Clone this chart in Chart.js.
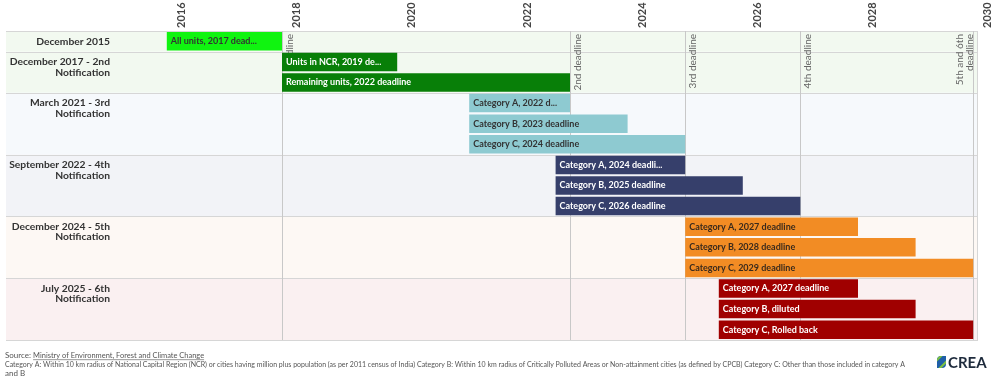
<!DOCTYPE html>
<html><head><meta charset="utf-8">
<script src="https://cdn.jsdelivr.net/npm/chart.js@4.4.1/dist/chart.umd.min.js"></script>
<style>html,body{margin:0;padding:0;background:#fff;}#wrap{width:1000px;height:381px;}</style>
</head><body><div id="wrap"><canvas id="c" width="1000" height="381"></canvas></div>
<script>
// ---- data ----
const groupLabels = [
  ['December 2015'],
  ['December 2017 - 2nd', 'Notification'],
  ['March 2021 - 3rd', 'Notification'],
  ['September 2022 - 4th', 'Notification'],
  ['December 2024 - 5th', 'Notification'],
  ['July 2025 - 6th', 'Notification']
];
const groupStarts = ['2015-12', '2017-12', '2021-03', '2022-09', '2024-12', '2025-07'];
const barGroup = [0, 1, 1, 2, 2, 2, 3, 3, 3, 4, 4, 4, 5, 5, 5];
// bar labels as displayed in the chart (long ones shortened with an ellipsis)
const barLabels = [
  'All units, 2017 dead...',
  'Units in NCR, 2019 de...', 'Remaining units, 2022 deadline',
  'Category A, 2022 d...', 'Category B, 2023 deadline', 'Category C, 2024 deadline',
  'Category A, 2024 deadli...', 'Category B, 2025 deadline', 'Category C, 2026 deadline',
  'Category A, 2027 deadline', 'Category B, 2028 deadline', 'Category C, 2029 deadline',
  'Category A, 2027 deadline', 'Category B, diluted', 'Category C, Rolled back'
];
const barEnds = ['2017-12', '2019-12', '2022-12', '2022-12', '2023-12', '2024-12', '2024-12', '2025-12',
  '2026-12', '2027-12', '2028-12', '2029-12', '2027-12', '2028-12', '2029-12'];
const deadlineDates = ['2017-12', '2022-12', '2024-12', '2026-12', '2029-12'];
const deadlineLabels = [['1st deadline'], ['2nd deadline'], ['3rd deadline'], ['4th deadline'], ['5th and 6th', 'deadline']];
const tickYears = [2016, 2018, 2020, 2022, 2024, 2026, 2028, 2030];
const axisMin = 2015, axisMax = 2030;

// ---- styles ----
const groupColors = ['#10f410', '#087f08', '#8ecad1', '#363f6b', '#f28c24', '#a00000'];
const labelColors = ['#333333', '#ffffff', '#333333', '#ffffff', '#3a2a1c', '#ffffff'];
const bandColors = ['#f2f9f0', '#f2f9f0', '#f6f9fc', '#f2f3f7', '#fdf8f4', '#faf0f1'];
const sourceText = 'Ministry of Environment, Forest and Climate Change';
const noteLine1 = 'Category A: Within 10 km radius of National Capital Region (NCR) or cities having million plus population (as per 2011 census of India) Category B: Within 10 km radius of Critically Polluted Areas or Non-attainment cities (as defined by CPCB) Category C: Other than those included in category A';
const noteLine2 = 'and B';

function toYear(s) { const [y, m] = s.split('-').map(Number); return y + (m - 1) / 12; }
const slots = barLabels.map((_, i) => 's' + i);

const datasets = groupLabels.map((g, gi) => ({
  label: g.join(' '),
  data: barGroup.map((bg, i) => bg === gi ? { y: slots[i], x: [toYear(groupStarts[gi]), toYear(barEnds[i])], t: barLabels[i] } : null).filter(Boolean),
  backgroundColor: groupColors[gi],
  borderWidth: 0,
  grouped: false,
  barPercentage: 0.9,
  categoryPercentage: 1
}));

const bandsPlugin = {
  id: 'bands',
  beforeDraw(chart) {
    const { ctx, chartArea } = chart;
    const ys = chart.scales.y;
    const slot = (ys.bottom - ys.top) / slots.length;
    ctx.save();
    const bounds = [];
    groupLabels.forEach((g, gi) => {
      const idx = barGroup.map((b, i) => b === gi ? i : -1).filter(i => i >= 0);
      const top = ys.getPixelForValue(idx[0]) - slot / 2;
      const bot = ys.getPixelForValue(idx[idx.length - 1]) + slot / 2;
      ctx.fillStyle = bandColors[gi];
      ctx.fillRect(6, top, chartArea.right - 6, bot - top);
      bounds.push(top, bot);
    });
    ctx.strokeStyle = '#d6d6d6';
    ctx.lineWidth = 1;
    ctx.beginPath();
    bounds.forEach(b => { const y = Math.round(b) + 0.5; ctx.moveTo(6, y); ctx.lineTo(chartArea.right, y); });
    const rx = Math.round(chartArea.right) - 0.5;
    ctx.moveTo(rx, chartArea.top); ctx.lineTo(rx, chartArea.bottom);
    ctx.stroke();
    ctx.restore();
  },
  beforeDatasetsDraw(chart) {
    const { ctx, chartArea } = chart;
    const xs = chart.scales.x;
    ctx.save();
    ctx.strokeStyle = '#c8c8c8';
    ctx.lineWidth = 1;
    deadlineDates.forEach((d, i) => {
      const x = Math.round(xs.getPixelForValue(toYear(d))) + 0.5;
      ctx.beginPath(); ctx.moveTo(x, chartArea.top); ctx.lineTo(x, chartArea.bottom); ctx.stroke();
      const lines = deadlineLabels[i];
      ctx.fillStyle = '#666';
      ctx.font = '10px Lato';
      ctx.textBaseline = 'middle';
      ctx.textAlign = 'right';
      lines.forEach((ln, li) => {
        const lx = lines.length > 1 ? x - 4 - (lines.length - 1 - li) * 10 : x + 7;
        ctx.save();
        ctx.translate(lx, chartArea.top + 3);
        ctx.rotate(-Math.PI / 2);
        ctx.fillText(ln, 0, 0);
        ctx.restore();
      });
    });
    ctx.restore();
  },
  afterDatasetsDraw(chart) {
    const { ctx } = chart;
    ctx.save();
    ctx.font = 'bold 9px Lato';
    ctx.textBaseline = 'middle';
    ctx.textAlign = 'left';
    chart.data.datasets.forEach((ds, di) => {
      const meta = chart.getDatasetMeta(di);
      meta.data.forEach((el, j) => {
        const left = Math.min(el.x, el.base), w = Math.abs(el.x - el.base);
        ctx.fillStyle = labelColors[di];
        ctx.fillText(ds.data[j].t, left + 4, el.y, w - 6);
      });
    });
    ctx.restore();
  },
  afterDraw(chart) {
    const { ctx } = chart;
    ctx.save();
    ctx.textBaseline = 'middle';
    ctx.textAlign = 'left';
    ctx.font = '8px Lato';
    ctx.fillStyle = '#555';
    ctx.fillText('Source: ', 5, 355.5);
    const sw = ctx.measureText('Source: ').width;
    const lw = Math.min(ctx.measureText(sourceText).width, 171);
    ctx.fillText(sourceText, 5 + sw, 355.5, 171);
    ctx.fillRect(5 + sw, 359.5, lw, 0.6);
    ctx.fillText(noteLine1, 5, 364.8, 900);
    ctx.fillText(noteLine2, 5, 373.8);
    // logo
    ctx.save();
    ctx.beginPath();
    ctx.moveTo(937, 368); ctx.lineTo(937, 360); ctx.quadraticCurveTo(937, 356, 941, 356); ctx.lineTo(946, 356); ctx.lineTo(946, 364); ctx.quadraticCurveTo(946, 368, 942, 368); ctx.closePath();
    ctx.clip();
    ctx.fillStyle = '#1f5fa8'; ctx.fillRect(935, 354, 14, 16);
    ctx.strokeStyle = '#7cc143'; ctx.lineWidth = 2.2;
    ctx.beginPath(); ctx.moveTo(934, 363); ctx.lineTo(942, 355); ctx.moveTo(938, 370); ctx.lineTo(949, 359); ctx.stroke();
    ctx.restore();
    ctx.font = 'bold 15px Lato';
    ctx.fillStyle = '#1e2b3c';
    ctx.textBaseline = 'alphabetic';
    ctx.fillText('CREA', 948, 368, 46);
    ctx.restore();
  }
};

new Chart(document.getElementById('c'), {
  type: 'bar',
  data: { labels: slots, datasets },
  options: {
    indexAxis: 'y',
    responsive: false,
    animation: false,
    devicePixelRatio: 1,
    layout: { padding: { left: 0, top: 0, right: 22, bottom: 41 } },
    plugins: { legend: { display: false }, tooltip: { enabled: false } },
    scales: {
      x: {
        type: 'linear', position: 'top', min: axisMin, max: axisMax,
        grid: { display: false, drawTicks: false }, border: { display: false },
        afterBuildTicks: s => { s.ticks = tickYears.map(v => ({ value: v })); },
        afterFit: s => { s.height = 31; },
        ticks: {
          autoSkip: false, minRotation: 90, maxRotation: 90, padding: 3, labelOffset: 23,
          color: '#444', font: { family: 'Lato', size: 11, weight: 'bold' },
          callback: v => String(v)
        }
      },
      y: {
        type: 'category',
        grid: { display: false, drawTicks: false }, border: { display: false },
        afterFit: s => { s.width = 114; },
        ticks: {
          autoSkip: false, padding: 4,
          color: '#333', font: { family: 'Lato', size: 10.3, weight: 'bold', lineHeight: 1 },
          callback: (v, i) => {
            const g = barGroup[i];
            if (barGroup.indexOf(g) !== i) return '';
            const l = groupLabels[g];
            return l.length > 1 ? ['', ...l] : l[0];
          }
        }
      }
    }
  },
  plugins: [bandsPlugin]
});
</script></body></html>
